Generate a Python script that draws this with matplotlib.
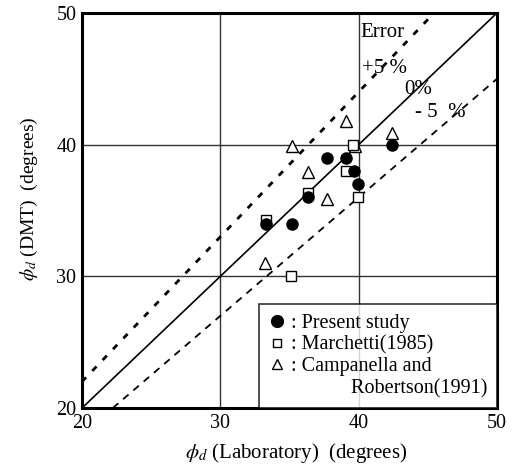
import matplotlib
matplotlib.use("Agg")
import matplotlib.pyplot as plt
from matplotlib.lines import Line2D
import numpy as np

plt.rcParams['font.family'] = ['Liberation Serif', 'DejaVu Serif']
plt.rcParams['mathtext.fontset'] = 'stix'

# Data (phi_d laboratory, phi_d DMT)
present_lab = [37.7, 39.05, 39.65, 39.95, 36.3, 33.3, 35.2, 42.4]
present_dmt = [39.0, 39.0, 38.0, 37.0, 36.0, 34.0, 34.0, 40.0]

marchetti_lab = [39.05, 36.3, 33.3, 39.95, 35.1, 39.6]
marchetti_dmt = [38.0, 36.3, 34.3, 36.0, 30.0, 40.0]

campanella_lab = [36.3, 37.7, 33.2, 39.05, 42.4, 35.2, 39.75]
campanella_dmt = [37.9, 35.9, 31.0, 41.8, 40.9, 39.9, 39.9]

ticks = [20, 30, 40, 50]

fig = plt.figure(figsize=(5.12, 4.74), dpi=100)
ax = fig.add_axes([0.160, 0.139, 0.811, 0.834])

ax.set_xlim(20, 50)
ax.set_ylim(20, 50)
ax.set_xticks(ticks)
ax.set_yticks(ticks)
ax.tick_params(length=0, labelsize=14.5, pad=4)
for s in ax.spines.values():
    s.set_linewidth(2.2)

for v in [30, 40]:
    ax.axvline(v, color='#333333', lw=1.0, zorder=1)
    ax.axhline(v, color='#333333', lw=1.0, zorder=1)

# error lines: 0 %, +5 %, -5 %
xl = np.array([20, 50])
ax.plot(xl, xl, color='black', lw=1.2, zorder=2)
ax.plot(xl, 1.1 * xl, color='black', lw=2.0, dashes=(2.2, 3.2), zorder=2)
ax.plot(xl, 0.9 * xl, color='black', lw=1.3, dashes=(4, 3.5), zorder=2)

tri, = ax.plot(campanella_lab, campanella_dmt, '^', ms=8, mfc='white',
               mec='black', mew=1.0, ls='none', zorder=3)
sq, = ax.plot(marchetti_lab, marchetti_dmt, 's', ms=7.5, mfc='white',
              mec='black', mew=1.0, ls='none', zorder=4)
circ, = ax.plot(present_lab, present_dmt, 'o', ms=8, color='black',
                ls='none', zorder=5)
blank = Line2D([], [], ls='none')

leg = ax.legend([circ, sq, tri, blank],
                [': Present study', ': Marchetti(1985)', ': Campanella and',
                 '            Robertson(1991)'],
                loc='lower right', fontsize=14.5, frameon=True, fancybox=False,
                edgecolor='black', handlelength=0.7, handletextpad=0.35,
                labelspacing=0.12, borderpad=0.5, borderaxespad=0.0)
leg.get_frame().set_linewidth(1.2)
for hd, ms in zip(leg.legend_handles, [8.5, 6, 6.5]):
    hd.set_markersize(ms)

ax.text(40.15, 48.5, 'Error', fontsize=15, va='center', ha='left')
ax.text(40.2, 45.8, '+5 %', fontsize=15, va='center', ha='left')
ax.text(43.3, 44.2, '0%', fontsize=15, va='center', ha='left')
ax.text(44.1, 42.4, '- 5  %', fontsize=15, va='center', ha='left')

ax.set_xlabel(r'$\phi_d$ (Laboratory)  (degrees)', fontsize=15)
ax.set_ylabel(r'$\phi_d$ (DMT)  (degrees)', fontsize=14)
ax.xaxis.set_label_coords(0.515, -0.083)
ax.yaxis.set_label_coords(-0.10, 0.53)

fig.savefig('out.png', dpi=100)
